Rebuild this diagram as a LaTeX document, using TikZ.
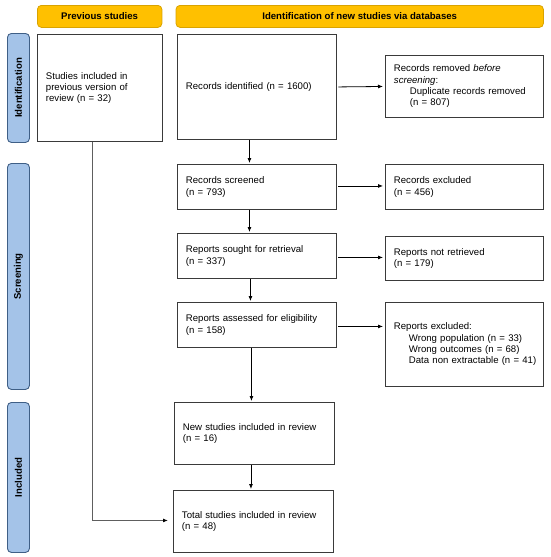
\documentclass[tikz,border=0pt]{standalone}
\usepackage{fontspec}
\setmainfont{Liberation Sans}
\usetikzlibrary{arrows.meta}
\definecolor{hdrfill}{HTML}{FFC000}
\definecolor{hdrline}{HTML}{D9A300}
\definecolor{sidefill}{HTML}{A4C3E8}
\definecolor{sideline}{HTML}{3F5F86}
\definecolor{boxline}{HTML}{3A3A3A}
\definecolor{sideconn}{HTML}{5E5E5E}
\newcommand\fs{\fontsize{9.6}{11.3}\selectfont}
\tikzset{
  box/.style={draw=boxline, line width=0.9pt, anchor=north west, align=left,
    inner xsep=8.5pt, inner ysep=0pt, font=\fs},
  hdr/.style={draw=hdrline, fill=hdrfill, line width=0.8pt, rounded corners=4pt,
    anchor=north west, inner sep=0pt, font=\fs\bfseries},
  side/.style={draw=sideline, fill=sidefill, line width=0.9pt, rounded corners=4pt,
    rotate=90, anchor=north east, inner sep=0pt, font=\fs\bfseries,
    minimum height=22pt},
  arr/.style={-{Latex[length=5pt,width=4pt]}, line width=0.8pt, black},
  sidearr/.style={-{Latex[length=5pt,width=4pt,color=black]}, line width=1.2pt, draw=sideconn},
}
\begin{document}
\begin{tikzpicture}[x=1pt,y=-1pt]
\useasboundingbox[fill=white] (0,0) rectangle (550,557);
% headers
\node[hdr, minimum width=124.5pt, minimum height=22pt] (hprev) at (37,5) {Previous studies};
\node[hdr, minimum width=367.4pt, minimum height=22pt] (hnew) at (175.6,5) {Identification of new studies via databases};
% side labels
\node[side, minimum width=109pt] (sident) at (7,33) {Identification};
\node[side, minimum width=226pt] (sscreen) at (7,163) {Screening};
\node[side, minimum width=150pt] (sincl) at (7,402) {Included};
% boxes
\node[box, minimum width=124.5pt, minimum height=107pt, text width=107.5pt] (studies) at (37,34)
  {Studies included in\\previous version of\\review (n = 32)\\[13pt]};
\node[box, minimum width=159pt, minimum height=105pt, text width=142pt] (ident) at (177,34)
  {Records identified (n = 1600)\\[-3pt]};
\node[box, minimum width=158pt, minimum height=62pt, text width=141pt] (removed) at (385,55)
  {Records removed \textit{before}\\\textit{screening}:\\\hspace*{16pt}\mbox{Duplicate records removed}\\\hspace*{16pt}(n = 807)};
\node[box, minimum width=159pt, minimum height=45pt, text width=142pt] (screened) at (177,164)
  {Records screened\\(n = 793)};
\node[box, minimum width=158pt, minimum height=45pt, text width=141pt] (excluded) at (385,164)
  {Records excluded\\(n = 456)};
\node[box, minimum width=159pt, minimum height=45pt, text width=142pt] (sought) at (177,233)
  {Reports sought for retrieval\\(n = 337)};
\node[box, minimum width=158pt, minimum height=44pt, text width=141pt] (notret) at (385,236)
  {Reports not retrieved\\(n = 179)};
\node[box, minimum width=159pt, minimum height=45pt, text width=142pt] (assessed) at (177,302)
  {Reports assessed for eligibility\\(n = 158)};
\node[box, minimum width=158pt, minimum height=84pt, text width=141pt] (repexcl) at (385,302)
  {Reports excluded:\\\hspace*{15pt}\mbox{Wrong population (n = 33)}\\\hspace*{15pt}\mbox{Wrong outcomes (n = 68)}\\\hspace*{15pt}\mbox{Data non extractable (n = 41)}};
\node[box, minimum width=160pt, minimum height=62pt, text width=143pt] (newinc) at (174,402)
  {New studies included in review\\(n = 16)};
\node[box, minimum width=160pt, minimum height=62pt, text width=143pt] (total) at (173,490)
  {Total studies included in review\\(n = 48)};
% connectors
\draw[arr, shorten >=2pt, shorten <=1.5pt] (ident.east) -- (removed.west);
\draw[arr, shorten >=2pt, shorten <=1.5pt] ([yshift=1pt]screened.east) -- ([yshift=1pt]screened.east -| excluded.west);
\draw[arr, shorten >=2pt, shorten <=1.5pt] ([yshift=-1.5pt]sought.east) -- ([yshift=-1.5pt]sought.east -| notret.west);
\draw[arr, shorten >=2pt, shorten <=1.5pt] ([yshift=-1.5pt]assessed.east) -- ([yshift=-1.5pt]assessed.east -| repexcl.west);
\draw[arr, shorten >=1pt] ([xshift=-7.5pt]ident.south) -- ([xshift=-7.5pt]screened.north);
\draw[arr, shorten >=1pt] ([xshift=-7.5pt]screened.south) -- ([xshift=-7.5pt]sought.north);
\draw[arr, shorten >=1pt] ([xshift=-6.5pt]sought.south) -- ([xshift=-6.5pt]sought.south |- assessed.north);
\draw[arr, shorten >=1pt] ([xshift=-5.5pt]assessed.south) -- ([xshift=-5.5pt]assessed.south |- newinc.north);
\draw[arr, shorten >=1pt] ([xshift=-3.5pt]newinc.south) -- ([xshift=-3.5pt]newinc.south |- total.north);
\draw[sidearr, shorten >=5pt] ([xshift=-7pt]studies.south) |- ([yshift=1pt]total.west);
\end{tikzpicture}
\end{document}
